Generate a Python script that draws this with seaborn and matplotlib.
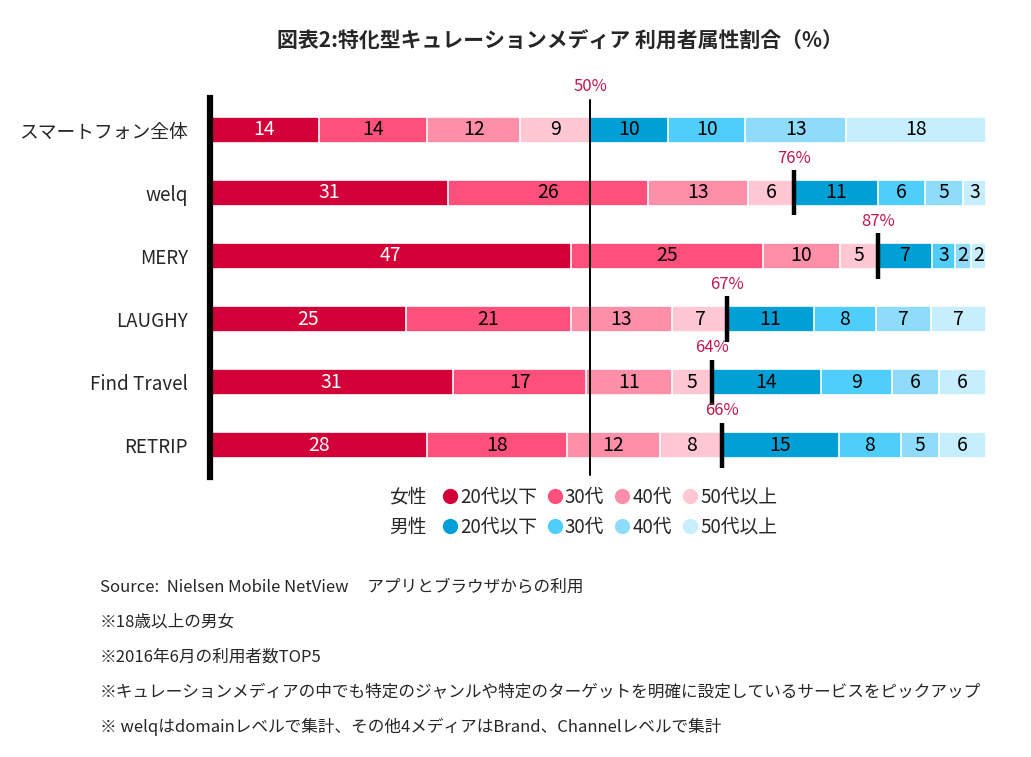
import numpy as np
import pandas as pd
import matplotlib
matplotlib.use("Agg")
import matplotlib.pyplot as plt
from matplotlib.lines import Line2D
import seaborn as sns

sns.set_style("white")
plt.rcParams['font.family'] = ['Noto Sans CJK JP', 'DejaVu Sans']

# ---------------- data ----------------
categories = ["スマートフォン全体", "welq", "MERY", "LAUGHY", "Find Travel", "RETRIP"]
segment_names = ["女性20代以下", "女性30代", "女性40代", "女性50代以上",
                 "男性20代以下", "男性30代", "男性40代", "男性50代以上"]
f_20 = [14, 31, 47, 25, 31, 28]
f_30 = [14, 26, 25, 21, 17, 18]
f_40 = [12, 13, 10, 13, 11, 12]
f_50 = [9, 6, 5, 7, 5, 8]
m_20 = [10, 11, 7, 11, 14, 15]
m_30 = [10, 6, 3, 8, 9, 8]
m_40 = [13, 5, 2, 7, 6, 5]
m_50 = [18, 3, 2, 7, 6, 6]
female_share_labels = ["50%", "76%", "87%", "67%", "64%", "66%"]
legend_ages = ["20代以下", "30代", "40代", "50代以上"]

title = "図表2:特化型キュレーションメディア 利用者属性割合（%）"
notes = [
    "Source:  Nielsen Mobile NetView     アプリとブラウザからの利用",
    "※18歳以上の男女",
    "※2016年6月の利用者数TOP5",
    "※キュレーションメディアの中でも特定のジャンルや特定のターゲットを明確に設定しているサービスをピックアップ",
    "※ welqはdomainレベルで集計、その他4メディアはBrand、Channelレベルで集計",
]

female_colors = ["#D20036", "#FF4F7B", "#FF8FA8", "#FFC6D3"]
male_colors = ["#00A0D7", "#4FCEFC", "#8FDCFA", "#C6EEFC"]
colors = female_colors + male_colors

# ---------------- build table ----------------
vals = np.array([f_20, f_30, f_40, f_50, m_20, m_30, m_40, m_50], dtype=float).T  # rows x segs
totals = vals.sum(axis=1, keepdims=True)
pct = vals / totals * 100
cum = np.cumsum(pct, axis=1)
starts = cum - pct

fig = plt.figure(figsize=(10.31, 7.57), dpi=100)
ax = fig.add_axes([210 / 1031, 1 - 477 / 757, 776 / 1031, 379 / 757])

for k in range(len(segment_names) - 1, -1, -1):
    df = pd.DataFrame({"cat": categories, "cum": cum[:, k]})
    sns.barplot(data=df, x="cum", y="cat", orient="h", color=colors[k],
                saturation=1, width=0.41, edgecolor="white", linewidth=1.2,
                ax=ax, order=categories)

# segment value labels
for i in range(len(categories)):
    for k in range(len(segment_names)):
        xc = starts[i, k] + pct[i, k] / 2
        ax.text(xc, i, f"{int(vals[i, k])}", ha="center", va="center",
                fontsize=14, color="white" if k == 0 else "black")

# female boundary markers
female_cum = cum[:, 3]
ax.axvline(female_cum[0], ymin=0.005, ymax=0.995, color="black", lw=1.4)
ax.text(female_cum[0], -0.68, female_share_labels[0], ha="center", va="center",
        fontsize=12, color="#C0174F")
for i in range(1, len(categories)):
    ax.plot([female_cum[i], female_cum[i]], [i - 0.36, i + 0.36], color="black",
            lw=3.2, solid_capstyle="butt")
    ax.text(female_cum[i], i - 0.55, female_share_labels[i], ha="center",
            va="center", fontsize=12, color="#C0174F")

ax.set_xlim(0, 100)
ax.set_ylim(len(categories) - 0.5, -0.5)
ax.set_xlabel("")
ax.set_ylabel("")
ax.set_xticks([])
ax.tick_params(axis="y", length=0, pad=16, labelsize=13.5)
for s in ["top", "right", "bottom"]:
    ax.spines[s].set_visible(False)
ax.spines["left"].set_linewidth(4.5)
ax.spines["left"].set_color("black")

# title
fig.text(0.543, 1 - 40 / 757, title, ha="center", va="center", fontsize=15,
         fontweight="bold")

# legends
def make_handles(cols):
    return [Line2D([], [], marker="o", linestyle="none", markersize=11,
                   markerfacecolor=c, markeredgecolor="none") for c in cols]

fig.text(408 / 1031, 1 - 497 / 757, "女性", ha="center", va="center", fontsize=13.5)
fig.text(408 / 1031, 1 - 527 / 757, "男性", ha="center", va="center", fontsize=13.5)
leg_kw = dict(ncol=4, frameon=False, fontsize=13.5, handlelength=0.8,
              handletextpad=0.15, columnspacing=0.55, borderpad=0, borderaxespad=0,
              loc="center left")
fig.legend(make_handles(female_colors), legend_ages,
           bbox_to_anchor=(442 / 1031, 1 - 497 / 757), **leg_kw)
fig.legend(make_handles(male_colors), legend_ages,
           bbox_to_anchor=(442 / 1031, 1 - 527 / 757), **leg_kw)

# notes
for j, t in enumerate(notes):
    fig.text(100 / 1031, 1 - (587 + 35 * j) / 757, t, ha="left", va="center",
             fontsize=12)

fig.savefig("out.png", dpi=100)
